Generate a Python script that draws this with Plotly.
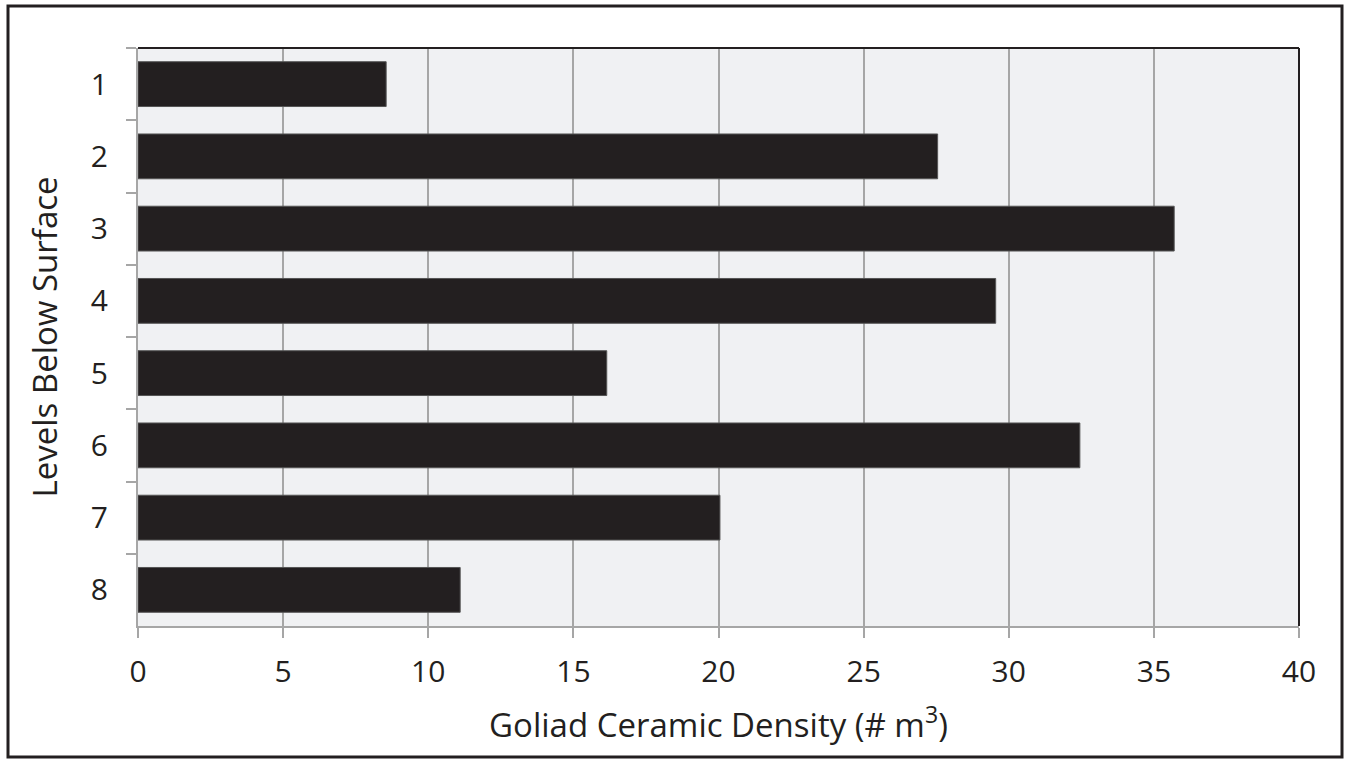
import plotly.graph_objects as go

# Ceramic density per excavation level
levels = ["1", "2", "3", "4", "5", "6", "7", "8"]
density = [8.55, 27.55, 35.7, 29.55, 16.15, 32.45, 20.05, 11.1]
x_ticks = [0, 5, 10, 15, 20, 25, 30, 35, 40]

W, H = 1349, 763
ML, MR, MT, MB = 138, 50, 48, 137
FONT = "Open Sans, DejaVu Sans, sans-serif"
INK = "#231f20"
GRID = "#a6a6a6"

fig = go.Figure(
    go.Bar(
        x=density,
        y=levels,
        orientation="h",
        width=0.62,
        marker=dict(color=INK, line=dict(color="#555555", width=1)),
    )
)

pw = W - ML - MR
ph = H - MT - MB


def px_x(p):
    return (p - ML) / pw


def px_y(p):
    return 1 - (p - MT) / ph


fig.update_layout(
    width=W,
    height=H,
    margin=dict(l=ML, r=MR, t=MT, b=MB),
    paper_bgcolor="white",
    plot_bgcolor="#f0f1f3",
    showlegend=False,
    font=dict(family=FONT, color=INK, size=30),
    bargap=0.38,
    xaxis=dict(
        range=[0, 40],
        tickvals=x_ticks,
        ticktext=[str(v) for v in x_ticks],
        showgrid=True,
        gridcolor=GRID,
        gridwidth=2,
        zeroline=False,
        showline=True,
        linecolor=GRID,
        linewidth=2,
        ticks="outside",
        ticklen=10,
        tickwidth=2,
        tickcolor=GRID,
        tickfont=dict(size=30, color=INK),
        ticklabelstandoff=8,
        title=dict(
            text="Goliad Ceramic Density (# m<sup>3</sup>)",
            font=dict(size=33, color=INK),
            standoff=24,
        ),
    ),
    yaxis=dict(
        type="category",
        categoryorder="array",
        categoryarray=levels,
        autorange="reversed",
        showgrid=False,
        zeroline=False,
        showline=True,
        linecolor=GRID,
        linewidth=2,
        ticks="outside",
        tickson="boundaries",
        ticklen=10,
        tickwidth=2,
        tickcolor=GRID,
        tickfont=dict(size=30, color=INK),
        ticklabelstandoff=22,
        title=dict(
            text="Levels Below Surface",
            font=dict(size=33, color=INK),
            standoff=23,
        ),
    ),
    shapes=[
        # dark frame along the top and right of the plotting area
        dict(type="line", xref="paper", yref="paper", x0=0, x1=1, y0=1, y1=1,
             line=dict(color=INK, width=2)),
        dict(type="line", xref="paper", yref="paper", x0=1, x1=1, y0=0, y1=1,
             line=dict(color=INK, width=2)),
        # outer border around the whole figure
        dict(type="rect", xref="paper", yref="paper",
             x0=px_x(8), x1=px_x(1342), y0=px_y(757), y1=px_y(6),
             line=dict(color=INK, width=3)),
    ],
)

fig.write_html("out.html")
